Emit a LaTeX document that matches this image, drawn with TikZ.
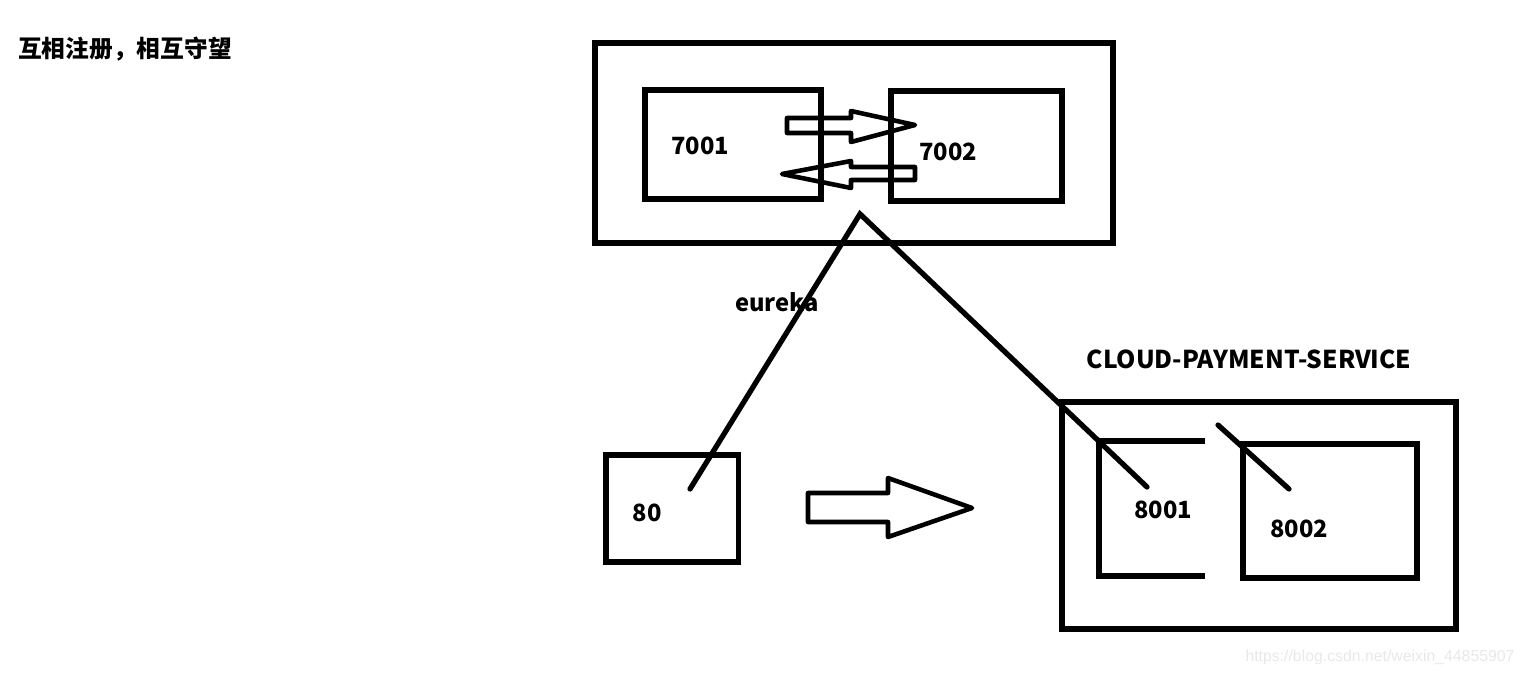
\documentclass[tikz,border=0pt]{standalone}
\usepackage{fontspec}
\setmainfont{Noto Sans CJK SC}
\setsansfont{Liberation Sans}
\usetikzlibrary{positioning}
\tikzstyle{box} = [rectangle, draw, line width=3.4pt, inner sep=0pt]
\tikzstyle{num} = [font=\bfseries\fontsize{13.5pt}{16pt}\selectfont, inner sep=0pt]
\tikzstyle{wire} = [line width=3pt, line cap=round]
\tikzstyle{hollow} = [line width=2.6pt, line join=round]
\tikzstyle{wmark} = [font=\sffamily\fontsize{9pt}{11pt}\selectfont, text=black!9, inner sep=0pt]

\begin{document}
\begin{tikzpicture}[x=0.02cm, y=-0.02cm]
\useasboundingbox (0,0) rectangle (1525,676);

\node(title)[num] at (125,49) {互相注册，相互守望};

% eureka cluster
\node(eureka)[box, minimum width=10.36cm, minimum height=4cm] at (854,143) {};
\node(b7001)[box, minimum width=3.52cm, minimum height=2.18cm] at (733,144.5) {};
\node(b7002)[box, minimum width=3.42cm, minimum height=2.2cm] at (976.5,146) {};
\node(t7001)[num] at (700,146) {7001};
\node(t7002)[num] at (948,152) {7002};
\node(teureka)[num] at (777,302) {eureka};

\draw [hollow] (787,118) -- (851,118) -- (851,111) -- (915,125) -- (851,142) -- (851,133) -- (787,133) -- cycle;
\draw [hollow] (915,167) -- (851,167) -- (851,161) -- (782,174) -- (851,188) -- (851,180) -- (915,180) -- cycle;

% consumer
\node(b80)[box, minimum width=2.66cm, minimum height=2.14cm] at (672,508.5) {};
\node(t80)[num] at (647,513) {80};

\draw [hollow] (808,493) -- (888,493) -- (888,478) -- (972,508) -- (888,537) -- (888,522) -- (808,522) -- cycle;

% provider cluster
\node(tpay)[num, font=\bfseries\fontsize{14pt}{16pt}\selectfont] at (1249,359) {CLOUD-PAYMENT-SERVICE};
\node(pay)[box, minimum width=7.88cm, minimum height=4.54cm] at (1259,515.5) {};
\draw [line width=3.4pt] (1205,441) -| (1099,576) -- (1205,576);
\node(b8002)[box, minimum width=3.48cm, minimum height=2.68cm] at (1330,511) {};
\node(t8001)[num] at (1163,510) {8001};
\node(t8002)[num] at (1299,529) {8002};

\coordinate (apex) at (860,214);
\coordinate (in80) at (690,489);
\coordinate (in8001) at (1147,487);
\coordinate (s1) at (1218,425);
\coordinate (s2) at (1289,489);
\draw [wire] (in80) -- (apex) -- (in8001);
\draw [wire] (s1) -- (s2);

\node(mark)[wmark] at (1380,657) {https://blog.csdn.net/weixin\_44855907};

\end{tikzpicture}
\end{document}
